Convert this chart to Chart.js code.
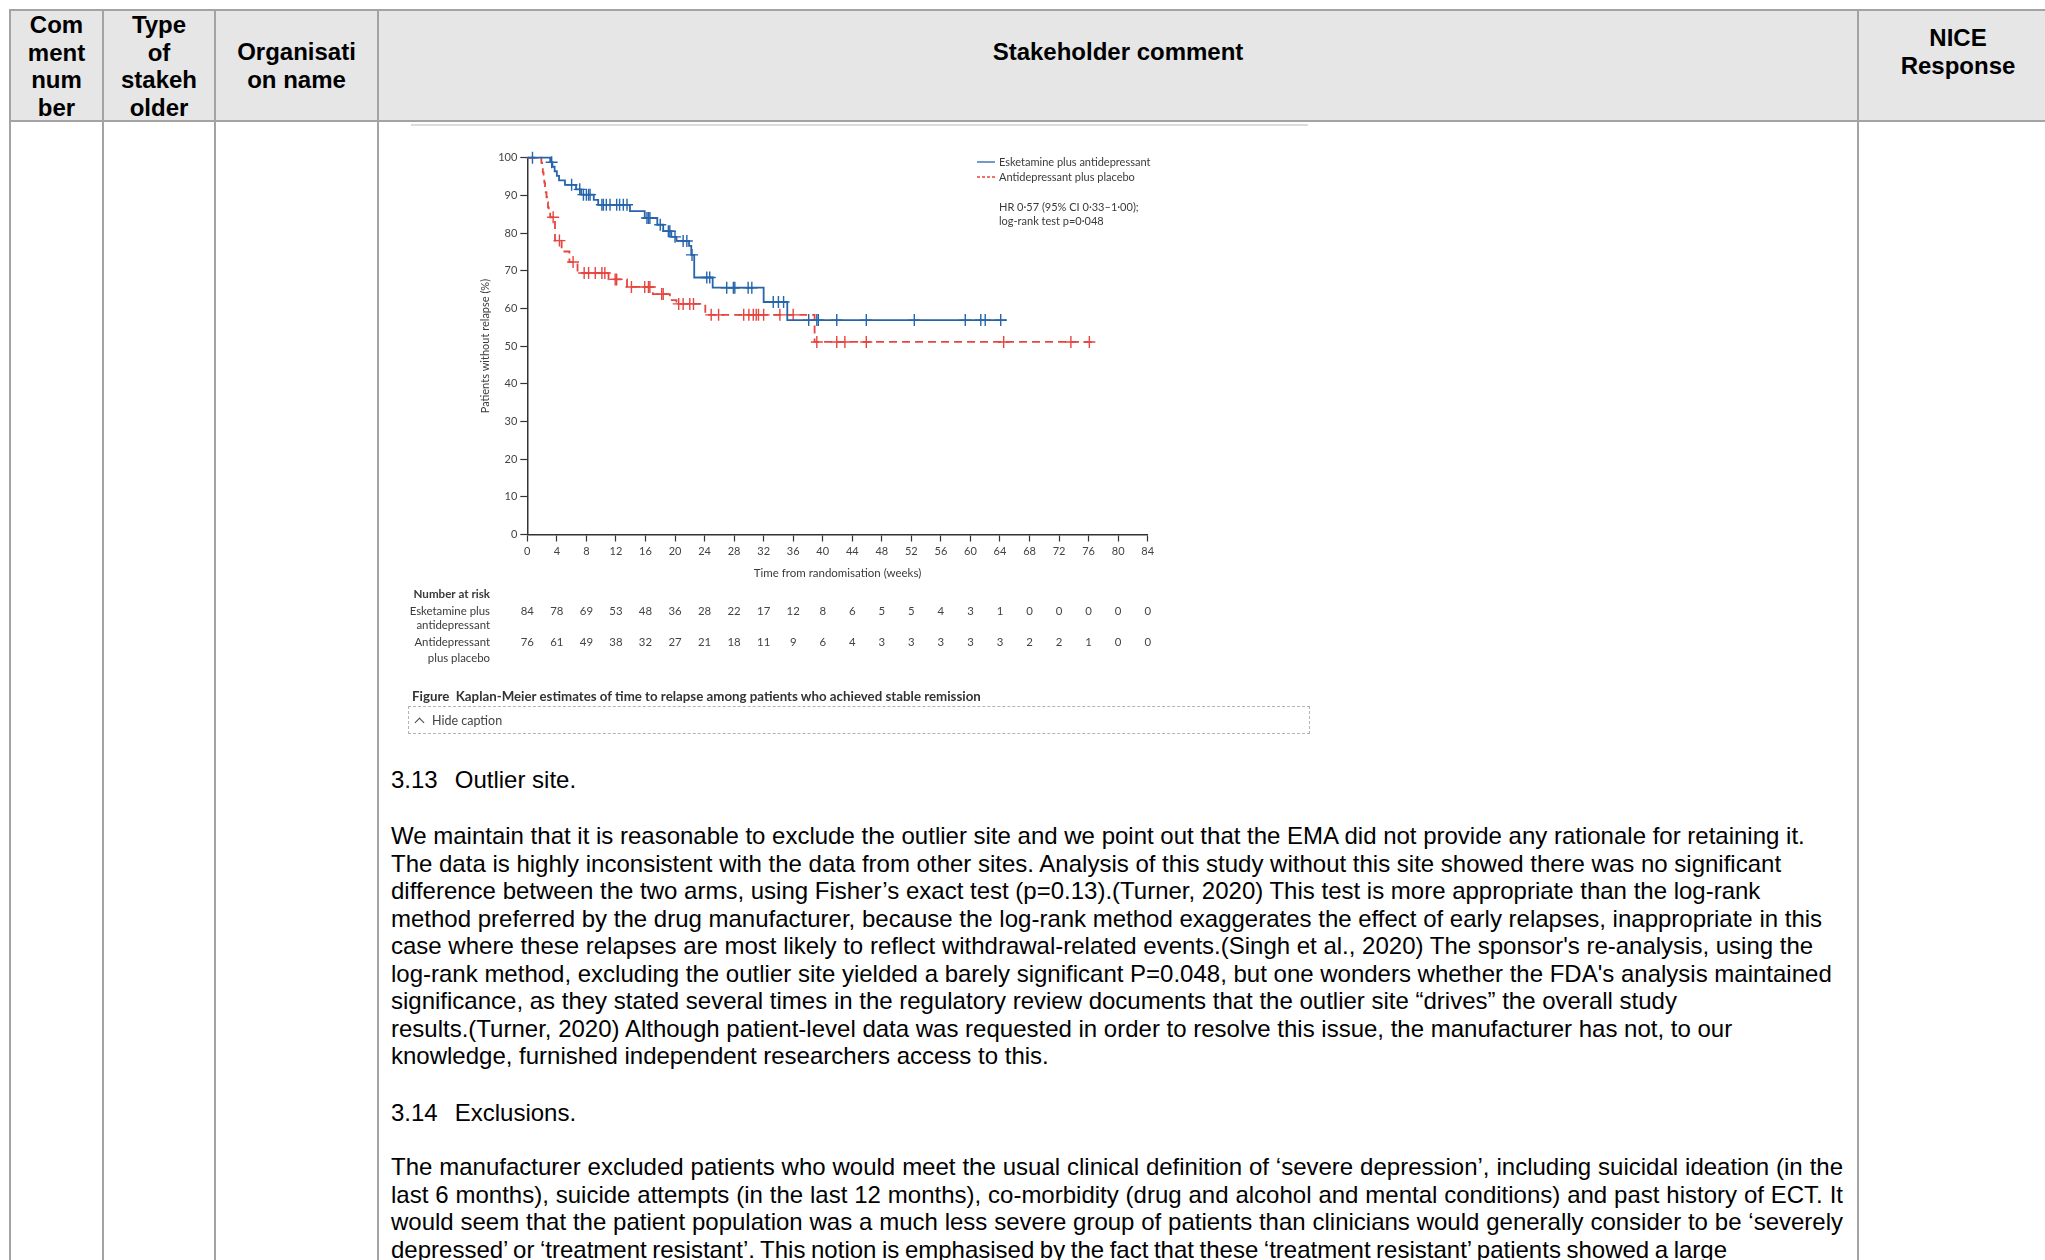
<!DOCTYPE html>
<html>
<head>
<meta charset="utf-8">
<script src="https://cdn.jsdelivr.net/npm/chart.js@4.4.1/dist/chart.umd.min.js"></script>
<style>
  html, body { margin: 0; padding: 0; background: #fff; overflow: hidden; }
  body { width: 2045px; height: 1260px; position: relative; font-family: "Liberation Sans", Arial, sans-serif; color: #000; }
  .hbg { position: absolute; left: 10px; top: 10px; width: 2040px; height: 111px; background: #e6e6e6; }
  .hl { position: absolute; height: 2px; background: #a3a3a3; }
  .vl { position: absolute; width: 2px; background: #a3a3a3; top: 9px; height: 1260px; }
  .hd { position: absolute; font-weight: bold; font-size: 24px; line-height: 27.6px; text-align: center; }
  .txt { position: absolute; left: 391px; font-size: 24px; line-height: 27.5px; white-space: nowrap; }
  .just { display: block; width: 1452px; text-align: justify; text-align-last: justify; white-space: normal; }
  #wrap { position: absolute; left: 400px; top: 130px; width: 920px; height: 560px; }
  .topline { position: absolute; left: 411px; top: 124px; width: 897px; height: 2px; background: #dcdcdc; }
  .caption { position: absolute; left: 412px; top: 688px; font-family: Lato, sans-serif; font-weight: bold; font-size: 13.3px; line-height: 17px; color: #333; white-space: nowrap; }
  .capbox { position: absolute; left: 408px; top: 706px; width: 900px; height: 26px; border: 1.5px dashed #b4b4b4; }
  .hide { position: absolute; left: 432px; top: 713px; font-family: Lato, sans-serif; font-size: 12.5px; line-height: 16px; color: #444; }
  .chev { position: absolute; left: 416px; top: 719px; width: 6px; height: 6px; border-left: 1.5px solid #444; border-top: 1.5px solid #444; transform: rotate(45deg); }
</style>
</head>
<body>
<div class="hbg"></div>
<div class="hl" style="left:9px;top:9px;width:2045px"></div>
<div class="hl" style="left:9px;top:120px;width:2045px"></div>
<div class="vl" style="left:9px"></div>
<div class="vl" style="left:102px"></div>
<div class="vl" style="left:214px"></div>
<div class="vl" style="left:377px"></div>
<div class="vl" style="left:1857px"></div>

<div class="hd" style="left:10px;width:93px;top:11px">Com<br>ment<br>num<br>ber</div>
<div class="hd" style="left:103px;width:112px;top:11px">Type<br>of<br>stakeh<br>older</div>
<div class="hd" style="left:215px;width:163px;top:38px">Organisati<br>on name</div>
<div class="hd" style="left:378px;width:1480px;top:38px">Stakeholder comment</div>
<div class="hd" style="left:1858px;width:200px;top:24px">NICE<br>Response</div>

<div class="topline"></div>
<div id="wrap"><canvas id="km-chart" width="920" height="560"></canvas></div>

<div class="caption">Figure&nbsp; Kaplan-Meier estimates of time to relapse among patients who achieved stable remission</div>
<div class="capbox"></div>
<div class="chev"></div>
<div class="hide">Hide caption</div>

<div class="txt" style="top:766px">3.13<span style="display:inline-block;width:17px"></span>Outlier site.</div>
<div class="txt" style="top:822px">We maintain that it is reasonable to exclude the outlier site and we point out that the EMA did not provide any rationale for retaining it.<br>The data is highly inconsistent with the data from other sites. Analysis of this study without this site showed there was no significant<br>difference between the two arms, using Fisher’s exact test (p=0.13).(Turner, 2020) This test is more appropriate than the log-rank<br>method preferred by the drug manufacturer, because the log-rank method exaggerates the effect of early relapses, inappropriate in this<br>case where these relapses are most likely to reflect withdrawal-related events.(Singh et al., 2020) The sponsor's re-analysis, using the<br>log-rank method, excluding the outlier site yielded a barely significant P=0.048, but one wonders whether the FDA's analysis maintained<br>significance, as they stated several times in the regulatory review documents that the outlier site “drives” the overall study<br>results.(Turner, 2020) Although patient-level data was requested in order to resolve this issue, the manufacturer has not, to our<br>knowledge, furnished independent researchers access to this.</div>
<div class="txt" style="top:1099px">3.14<span style="display:inline-block;width:17px"></span>Exclusions.</div>
<div class="txt" style="top:1153px">
<span class="just">The manufacturer excluded patients who would meet the usual clinical definition of ‘severe depression’, including suicidal ideation (in the</span>
<span class="just">last 6 months), suicide attempts (in the last 12 months), co-morbidity (drug and alcohol and mental conditions) and past history of ECT. It</span>
<span class="just">would seem that the patient population was a much less severe group of patients than clinicians would generally consider to be ‘severely</span>
<span style="display:block;word-spacing:-1.1px">depressed’ or ‘treatment resistant’. This notion is emphasised by the fact that these ‘treatment resistant’ patients showed a large</span>
</div>

<script>
"use strict";

/* --- DATA --- */

// Kaplan-Meier steps: time (weeks) where the estimate changes, value after it (%)
const esk_times = [0, 3.1, 3.4, 3.7, 4.0, 4.3, 5.1, 6.6, 7.3, 9.0, 9.6, 13.9, 15.9, 17.6, 18.4, 19.5, 20.2, 21.9, 22.2, 22.6, 25.1, 32.0, 35.2, 64.9];
const esk_surv  = [100, 98.8, 97.6, 96.4, 95.2, 94.0, 92.8, 91.6, 90.2, 88.8, 87.5, 85.8, 84.0, 82.2, 80.5, 79.0, 77.9, 76.6, 74.2, 68.2, 65.5, 61.7, 56.9, 56.9];
const esk_censored = [0.7, 3.3, 6.0, 7.1, 7.6, 8.0, 8.3, 8.5, 10.1, 10.3, 10.7, 11.2, 12.1, 12.5, 13.0, 13.5, 16.2, 16.4, 16.6, 18.0, 19.1, 19.3, 20.0, 21.1, 21.6, 22.3, 24.3, 24.7, 27.0, 27.9, 28.1, 29.9, 30.4, 33.3, 34.0, 34.7, 38.1, 39.2, 39.4, 41.9, 45.9, 52.4, 59.3, 61.4, 62.0, 64.1];

const plc_times = [0, 1.9, 2.0, 2.1, 2.2, 2.3, 2.4, 2.5, 2.6, 2.7, 2.8, 2.9, 3.1, 3.75, 4.65, 5.7, 6.8, 11.0, 13.5, 17.0, 19.3, 20.2, 24.1, 38.9, 76.5];
const plc_surv  = [100, 98.7, 97.4, 96.1, 94.7, 93.4, 92.1, 90.8, 89.5, 88.2, 86.8, 85.5, 84.2, 78.0, 75.1, 72.3, 69.4, 67.7, 65.7, 63.8, 62.2, 61.2, 58.3, 51.1, 51.1];
const plc_censored = [3.5, 4.35, 6.2, 7.7, 8.3, 9.2, 10.1, 10.5, 11.9, 12.1, 14.1, 15.9, 16.4, 16.6, 18.2, 18.4, 20.5, 21.1, 22.0, 22.5, 24.9, 25.9, 29.3, 30.0, 30.6, 31.0, 31.3, 32.0, 34.2, 36.0, 39.2, 41.9, 43.0, 45.9, 64.5, 73.6, 76.1];

// number at risk, one value per x tick (0, 4, ... 84)
const risk_esk = [84, 78, 69, 53, 48, 36, 28, 22, 17, 12, 8, 6, 5, 5, 4, 3, 1, 0, 0, 0, 0, 0];
const risk_plc = [76, 61, 49, 38, 32, 27, 21, 18, 11, 9, 6, 4, 3, 3, 3, 3, 3, 2, 2, 1, 0, 0];

const hr_text = ['HR 0·57 (95% CI 0·33–1·00);', 'log-rank test p=0·048'];

const BLUE = '#2764ab';
const RED = '#e6453f';
const INK = '#3a3a3a';

function km_points(times, surv) {
  return times.map((t, i) => ({x: t, y: surv[i]}));
}

function surv_at(times, surv, t) {
  let v = surv[0];
  for (let i = 0; i < times.length; i++) {
    if (times[i] <= t) v = surv[i];
  }
  return v;
}

function censor_points(cens, times, surv) {
  return cens.map(t => ({x: t, y: surv_at(times, surv, t)}));
}

/* legend, HR note and number-at-risk table */
const km_extras = {
  id: 'km_extras',
  afterDraw(chart) {
    const ctx = chart.ctx;
    const xs = chart.scales.x;
    ctx.save();

    // legend
    const lx = 577, ly = [32, 47];
    ctx.lineWidth = 1.3;
    ctx.strokeStyle = BLUE;
    ctx.beginPath(); ctx.moveTo(lx, ly[0]); ctx.lineTo(lx + 18, ly[0]); ctx.stroke();
    ctx.strokeStyle = RED;
    ctx.setLineDash([3, 2]);
    ctx.beginPath(); ctx.moveTo(lx, ly[1]); ctx.lineTo(lx + 18, ly[1]); ctx.stroke();
    ctx.setLineDash([]);
    ctx.fillStyle = INK;
    ctx.font = '11px Lato';
    ctx.textBaseline = 'middle';
    ctx.textAlign = 'left';
    ctx.fillText(chart.data.datasets[0].label, lx + 22, ly[0]);
    ctx.fillText(chart.data.datasets[1].label, lx + 22, ly[1]);
    ctx.fillText(hr_text[0], lx + 22, 77);
    ctx.fillText(hr_text[1], lx + 22, 91);

    // number at risk
    ctx.textAlign = 'right';
    ctx.font = 'bold 11.6px Lato';
    ctx.fillText('Number at risk', 90, 464);
    ctx.font = '11.4px Lato';
    ctx.fillText('Esketamine plus', 90, 481);
    ctx.fillText('antidepressant', 90, 495);
    ctx.fillText('Antidepressant', 90, 512);
    ctx.fillText('plus placebo', 90, 528);

    ctx.textAlign = 'center';
    ctx.fillStyle = '#444';
    xs.ticks.forEach((tk, i) => {
      const px = xs.getPixelForValue(tk.value);
      ctx.fillText(String(risk_esk[i]), px, 481);
      ctx.fillText(String(risk_plc[i]), px, 512);
    });
    ctx.restore();
  }
};

const km_canvas = document.getElementById('km-chart');

let km_chart = new Chart(km_canvas, {
  type: 'scatter',
  data: {
    datasets: [{
      label: 'Esketamine plus antidepressant',
      data: km_points(esk_times, esk_surv),
      showLine: true,
      stepped: true,
      borderColor: BLUE,
      borderWidth: 1.8,
      pointRadius: 0,
      clip: false
    }, {
      label: 'Antidepressant plus placebo',
      data: km_points(plc_times, plc_surv),
      showLine: true,
      stepped: true,
      borderColor: RED,
      borderWidth: 1.8,
      borderDash: [8, 5],
      pointRadius: 0,
      clip: false
    }, {
      label: 'censored esk',
      data: censor_points(esk_censored, esk_times, esk_surv),
      showLine: false,
      pointStyle: 'cross',
      pointRadius: 6,
      pointBorderColor: BLUE,
      pointBorderWidth: 1.4,
      clip: false
    }, {
      label: 'censored plc',
      data: censor_points(plc_censored, plc_times, plc_surv),
      showLine: false,
      pointStyle: 'cross',
      pointRadius: 6,
      pointBorderColor: RED,
      pointBorderWidth: 1.4,
      clip: false
    }]
  },
  options: {
    responsive: false,
    animation: false,
    devicePixelRatio: 1,
    events: [],
    layout: {
      padding: {left: 0, top: 27.7, right: 172.3, bottom: 105.5}
    },
    plugins: {
      legend: {display: false},
      tooltip: {enabled: false}
    },
    scales: {
      x: {
        type: 'linear',
        min: 0,
        max: 84,
        afterFit(scale) { scale.height = 50; },
        ticks: {stepSize: 4, autoSkip: false, maxRotation: 0, padding: 3, color: '#444', font: {family: 'Lato', size: 11}},
        grid: {drawOnChartArea: false, drawTicks: true, tickLength: 7, tickColor: '#333', tickWidth: 1.2},
        border: {color: '#333', width: 1.5},
        title: {display: true, text: 'Time from randomisation (weeks)', color: INK, font: {family: 'Lato', size: 11.5}, padding: {top: 0, bottom: 4}}
      },
      y: {
        min: 0,
        max: 100,
        afterFit(scale) { scale.width = 127.3; },
        ticks: {stepSize: 10, padding: 3, color: '#444', font: {family: 'Lato', size: 11}},
        grid: {drawOnChartArea: false, drawTicks: true, tickLength: 7, tickColor: '#333', tickWidth: 1.2},
        border: {color: '#333', width: 1.5},
        title: {display: true, text: 'Patients without relapse (%)', color: INK, font: {family: 'Lato', size: 11}, padding: {top: 78.4, bottom: 0}}
      }
    }
  },
  plugins: [km_extras]
});
</script>
</body>
</html>
